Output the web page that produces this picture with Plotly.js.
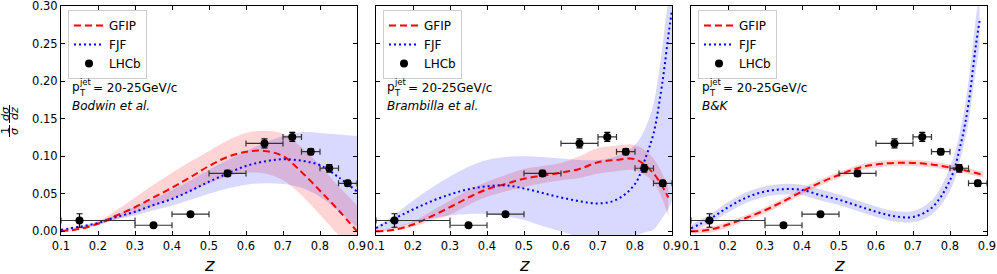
<!DOCTYPE html>
<html>
<head>
<meta charset="utf-8">
<script src="https://cdn.plot.ly/plotly-3.0.1.min.js"></script>
<style>html,body{margin:0;padding:0;background:#fff}#chart{width:997px;height:274px}</style>
</head>
<body>
<div id="chart"></div>
<script>
// ---------------- data ----------------
const panelNames = ["Bodwin et al.", "Brambilla et al.", "B&K"];
const xTicks = [0.1,0.2,0.3,0.4,0.5,0.6,0.7,0.8,0.9];
const yTicks = [0.0,0.05,0.10,0.15,0.20,0.25,0.30];

// LHCb data
const lhcbZ = [0.15, 0.35, 0.45, 0.55, 0.65, 0.725, 0.775, 0.825, 0.875];
const lhcbY = [0.0143, 0.008, 0.0227, 0.077, 0.117, 0.1257, 0.106, 0.0839, 0.0638];
const lhcbYerr = [0.009, 0.0015, 0.002, 0.004, 0.006, 0.006, 0.004, 0.005, 0.004];
const lhcbXminus = [0.05, 0.05, 0.05, 0.05, 0.05, 0.025, 0.025, 0.025, 0.025];
const lhcbXplus = [0.15, 0.05, 0.05, 0.05, 0.05, 0.025, 0.025, 0.025, 0.025];

// Panel 1: Bodwin et al.
const z1 = [0.1,0.15,0.2,0.25,0.3,0.35,0.4,0.45,0.5,0.55,0.6,0.65,0.7,0.75,0.8,0.85,0.9];
const gfip1 = [0.0,0.003,0.010,0.021,0.032,0.045,0.058,0.072,0.087,0.099,0.106,0.107,0.100,0.079,0.054,0.028,0.0];
const gfip1Up = [0.001,0.005,0.013,0.028,0.045,0.062,0.078,0.093,0.107,0.121,0.131,0.134,0.130,0.112,0.088,0.060,0.035];
const gfip1Lo = [0.0,0.002,0.008,0.016,0.024,0.033,0.043,0.053,0.064,0.073,0.078,0.077,0.068,0.048,0.022,-0.005,-0.030];
const fjf1 = [0.002,0.006,0.011,0.019,0.026,0.035,0.043,0.054,0.066,0.077,0.087,0.093,0.096,0.094,0.088,0.072,0.053];
const fjf1Up = [0.003,0.007,0.013,0.022,0.033,0.043,0.055,0.068,0.082,0.095,0.107,0.118,0.127,0.132,0.131,0.129,0.127];
const fjf1Lo = [0.001,0.005,0.009,0.016,0.021,0.028,0.034,0.042,0.050,0.057,0.062,0.064,0.063,0.058,0.046,0.027,0.005];

// Panel 2: Brambilla et al.
const z2g = [0.1,0.15,0.2,0.25,0.3,0.35,0.4,0.45,0.5,0.55,0.6,0.65,0.7,0.75,0.8,0.85,0.89];
const gfip2 = [0.0,0.002,0.009,0.020,0.032,0.045,0.056,0.063,0.070,0.074,0.078,0.083,0.092,0.095,0.096,0.077,0.045];
const gfip2Up = [0.001,0.006,0.013,0.027,0.041,0.055,0.066,0.075,0.083,0.087,0.091,0.100,0.111,0.114,0.115,0.097,0.058];
const gfip2Lo = [0.0,0.001,0.006,0.014,0.022,0.035,0.046,0.053,0.059,0.064,0.068,0.071,0.077,0.080,0.081,0.065,0.020];
const z2f = [0.1,0.15,0.2,0.25,0.3,0.35,0.4,0.45,0.5,0.55,0.6,0.65,0.7,0.75,0.8,0.83,0.85,0.87,0.88,0.89,0.9];
const fjf2 = [0.004,0.017,0.029,0.040,0.049,0.056,0.060,0.061,0.057,0.051,0.045,0.040,0.037,0.042,0.063,0.100,0.130,0.185,0.220,0.260,0.295];
const fjf2Up = [0.006,0.022,0.041,0.058,0.073,0.086,0.095,0.099,0.100,0.099,0.097,0.095,0.095,0.100,0.115,0.140,0.170,0.230,0.270,0.310,0.350];
const fjf2Lo = [0.0,0.005,0.011,0.017,0.021,0.023,0.023,0.020,0.015,0.007,0.0,-0.008,-0.012,-0.012,-0.006,-0.001,0.002,0.015,0.022,0.030,0.040];

// Panel 3: B&K
const z3g = [0.1,0.15,0.2,0.25,0.3,0.35,0.4,0.45,0.5,0.55,0.6,0.65,0.7,0.75,0.8,0.85,0.89];
const gfip3 = [0.0,0.002,0.009,0.018,0.028,0.040,0.053,0.065,0.075,0.084,0.089,0.091,0.091,0.089,0.085,0.080,0.075];
const gfip3Up = [0.003,0.006,0.013,0.022,0.032,0.044,0.057,0.069,0.079,0.088,0.093,0.095,0.095,0.093,0.089,0.084,0.079];
const gfip3Lo = [-0.003,-0.002,0.005,0.014,0.024,0.036,0.049,0.061,0.071,0.080,0.085,0.087,0.087,0.085,0.081,0.076,0.071];
const z3f = [0.1,0.15,0.2,0.25,0.3,0.35,0.4,0.45,0.5,0.55,0.6,0.65,0.7,0.75,0.8,0.83,0.85,0.87,0.88];
const fjf3 = [0.004,0.016,0.032,0.045,0.053,0.056,0.055,0.048,0.042,0.034,0.026,0.020,0.019,0.031,0.068,0.118,0.170,0.248,0.280];
const fjf3Up = [0.009,0.022,0.039,0.052,0.060,0.063,0.062,0.056,0.049,0.041,0.033,0.027,0.027,0.041,0.085,0.140,0.200,0.285,0.320];
const fjf3Lo = [0.0,0.010,0.025,0.038,0.046,0.049,0.048,0.041,0.035,0.027,0.019,0.013,0.012,0.022,0.054,0.100,0.145,0.215,0.245];

// --------------- geometry helpers ---------------
const W = 997, H = 274;
const M = {l: 61, r: 10, t: 6, b: 39};
const PW = W - M.l - M.r, PH = H - M.t - M.b;
const px = X => (X - M.l) / PW;
const py = Y => (H - M.b - Y) / PH;
const panelLeft = [61, 376, 691];
const panelW = 296;

const RED = 'rgb(255,0,0)', BLUE = 'rgb(0,0,255)';
const RED_F = 'rgba(255,0,0,0.17)', BLUE_F = 'rgba(0,0,255,0.15)';

const panels = [
  {z_g: z1, g: gfip1, gU: gfip1Up, gL: gfip1Lo, z_f: z1, f: fjf1, fU: fjf1Up, fL: fjf1Lo},
  {z_g: z2g, g: gfip2, gU: gfip2Up, gL: gfip2Lo, z_f: z2f, f: fjf2, fU: fjf2Up, fL: fjf2Lo},
  {z_g: z3g, g: gfip3, gU: gfip3Up, gL: gfip3Lo, z_f: z3f, f: fjf3, fU: fjf3Up, fL: fjf3Lo},
];

const traces = [];
panels.forEach((p, i) => {
  const xa = i === 0 ? 'x' : 'x' + (i + 1);
  const ya = i === 0 ? 'y' : 'y' + (i + 1);
  const lg = i === 0 ? 'legend' : 'legend' + (i + 1);
  const common = {xaxis: xa, yaxis: ya, legend: lg, hoverinfo: 'skip'};
  traces.push(Object.assign({type: 'scatter', mode: 'lines', x: p.z_g, y: p.gL, line: {width: 0, shape: 'spline'}, showlegend: false}, common));
  traces.push(Object.assign({type: 'scatter', mode: 'lines', x: p.z_g, y: p.gU, line: {width: 0, shape: 'spline'}, fill: 'tonexty', fillcolor: RED_F, showlegend: false}, common));
  traces.push(Object.assign({type: 'scatter', mode: 'lines', x: p.z_f, y: p.fL, line: {width: 0, shape: 'spline'}, showlegend: false}, common));
  traces.push(Object.assign({type: 'scatter', mode: 'lines', x: p.z_f, y: p.fU, line: {width: 0, shape: 'spline'}, fill: 'tonexty', fillcolor: BLUE_F, showlegend: false}, common));
  traces.push(Object.assign({type: 'scatter', mode: 'lines', name: 'GFIP', x: p.z_g, y: p.g, line: {color: RED, width: 2, dash: '7px,4px', shape: 'spline'}}, common));
  traces.push(Object.assign({type: 'scatter', mode: 'lines', name: 'FJF', x: p.z_f, y: p.f, line: {color: BLUE, width: 2, dash: '2px,3px', shape: 'spline'}}, common));
  traces.push(Object.assign({type: 'scatter', mode: 'markers', name: 'LHCb', x: lhcbZ, y: lhcbY,
    marker: {color: 'black', size: 8, symbol: 'circle'},
    error_y: {type: 'data', array: lhcbYerr, visible: true, color: 'black', thickness: 1.2, width: 3},
    error_x: {type: 'data', symmetric: false, array: lhcbXplus, arrayminus: lhcbXminus, visible: true, color: '#333', thickness: 1.2, width: 3}
  }, common));
});

const FONT = 'DejaVu Sans, sans-serif';
function xAxis(i) {
  const d0 = px(panelLeft[i]), d1 = px(panelLeft[i] + panelW);
  return {domain: [d0, Math.min(1, d1)], range: [0.1, 0.9], tickvals: xTicks, tickformat: '.1f',
    ticks: 'inside', ticklen: 4, tickcolor: 'black', mirror: 'allticks', showline: true, linecolor: 'black', linewidth: 1,
    showgrid: false, zeroline: false, anchor: i === 0 ? 'y' : 'y' + (i + 1), ticklabeloverflow: 'allow',
    tickfont: {family: FONT, size: 11.5, color: 'black'}};
}
function yAxis(i) {
  return {domain: [0, 1], range: [-0.005, 0.3001], tickvals: yTicks, tickformat: '.2f',
    ticks: 'inside', ticklen: 4, tickcolor: 'black', mirror: 'allticks', showline: true, linecolor: 'black', linewidth: 1,
    showgrid: false, zeroline: false, showticklabels: i === 0, anchor: i === 0 ? 'x' : 'x' + (i + 1),
    ticklabeloverflow: 'allow', tickfont: {family: FONT, size: 11.5, color: 'black'}};
}
function legendAt(i) {
  return {x: px(panelLeft[i] + 7), y: py(10), xanchor: 'left', yanchor: 'top',
    bgcolor: 'rgba(255,255,255,0.9)', bordercolor: '#cccccc', borderwidth: 1,
    font: {family: FONT, size: 12, color: 'black'}, traceorder: 'normal', tracegroupgap: 0};
}

const annotations = [];
const shapes = [];
panelLeft.forEach((L, i) => {
  const A = (text, X, Y, size, anchor) => annotations.push({text, x: px(X), y: py(Y), xref: 'paper', yref: 'paper',
    xanchor: anchor || 'left', yanchor: 'middle', showarrow: false, font: {family: FONT, size, color: 'black'}});
  A('p', L + 9, 87, 12);
  A('jet', L + 16, 82, 8.5);
  A('T', L + 16, 93, 8.5);
  A('= 20-25GeV/c', L + 30, 88, 12);
  A('<i>' + panelNames[i].replace('&', '&amp;') + '</i>', L + 9, 106, 12);
  A('<i>z</i>', L + panelW / 2, 264, 18, 'center');
});
const R = (text, X, Y) => annotations.push({text, x: px(X), y: py(Y), xref: 'paper', yref: 'paper', textangle: -90,
  xanchor: 'center', yanchor: 'middle', showarrow: false, font: {family: FONT, size: 11, color: 'black'}});
R('1', 5, 131);
R('<i>σ</i>', 14, 131);
R('<i>dσ</i>', 5, 114);
R('<i>dz</i>', 14, 114);
shapes.push({type: 'line', xref: 'paper', yref: 'paper', x0: px(9.5), x1: px(9.5), y0: py(125), y1: py(137), line: {color: 'black', width: 1}});
shapes.push({type: 'line', xref: 'paper', yref: 'paper', x0: px(9.5), x1: px(9.5), y0: py(105), y1: py(123), line: {color: 'black', width: 1}});

const layout = {
  width: W, height: H, margin: M, paper_bgcolor: 'white', plot_bgcolor: 'white',
  font: {family: FONT, color: 'black'}, showlegend: true,
  xaxis: xAxis(0), xaxis2: xAxis(1), xaxis3: xAxis(2),
  yaxis: yAxis(0), yaxis2: yAxis(1), yaxis3: yAxis(2),
  legend: legendAt(0), legend2: legendAt(1), legend3: legendAt(2),
  annotations, shapes
};
Plotly.newPlot('chart', traces, layout, {staticPlot: true});
</script>
</body>
</html>
